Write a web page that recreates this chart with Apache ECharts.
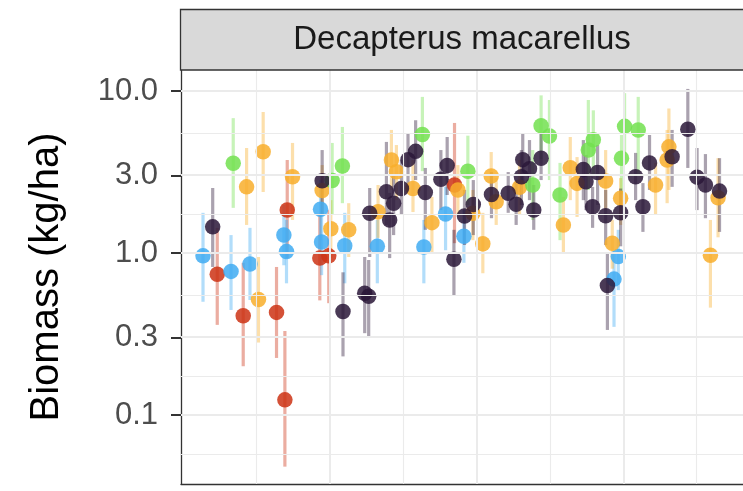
<!DOCTYPE html>
<html><head><meta charset="utf-8">
<script src="https://cdn.jsdelivr.net/npm/echarts@6/dist/echarts.min.js"></script>
<style>html,body{margin:0;padding:0;background:#fff}#c{width:743px;height:491px}</style>
</head><body><div id="c"></div>
<script>
const stripLabel = 'Decapterus macarellus';
const yTitle = 'Biomass (kg/ha)';
const yTickLabels = [0.1, 0.3, 1, 3, 10];
const yMinorBreaks = [0.058, 0.173, 0.548, 1.73, 5.48];
const xMajorBreaks = [1990, 2000, 2010];
const xMinorBreaks = [1985, 1995, 2005, 2015];
const xRange = [1979.86, 2018.16];
const yRange = [0.0375, 13.48];

// rows: [year, estimate, lower, upper]
const redPts = [
  [1982.33, 0.74, 0.36, 1.43], [1984.10, 0.41, 0.20, 0.87], [1986.37, 0.43, 0.225, 0.82],
  [1986.94, 0.124, 0.048, 0.33], [1987.10, 1.84, 0.93, 3.75], [1989.32, 0.93, 0.51, 1.72],
  [1989.93, 0.96, 0.49, 1.84], [1998.50, 2.63, 1.15, 6.35]
];
const bluePts = [
  [1981.36, 0.96, 0.50, 1.77], [1983.27, 0.77, 0.445, 1.29], [1984.56, 0.855, 0.513, 1.43],
  [1986.87, 1.29, 0.84, 1.98], [1987.05, 1.02, 0.65, 1.60], [1989.37, 1.86, 1.20, 2.82],
  [1989.44, 1.17, 0.73, 1.72], [1991.02, 1.11, 0.65, 1.77], [1993.24, 1.10, 0.65, 1.60],
  [1996.41, 1.09, 0.65, 1.60], [1997.89, 1.74, 1.04, 2.56], [1999.14, 1.27, 0.87, 1.84],
  [2009.37, 0.69, 0.35, 1.0], [2009.66, 0.95, 0.59, 1.39]
];
const orangePts = [
  [1984.33, 2.56, 1.49, 4.45], [1985.46, 4.22, 2.38, 7.42], [1985.14, 0.516, 0.28, 0.945],
  [1987.46, 2.96, 1.60, 4.78], [1989.48, 2.43, 1.72, 3.49], [1990.07, 1.41, 0.93, 2.12],
  [1991.29, 1.39, 0.945, 2.03], [1993.29, 1.80, 1.24, 2.63], [1994.20, 3.75, 2.45, 5.75],
  [1994.54, 3.17, 2.12, 4.64], [1995.67, 2.50, 1.79, 3.75], [1996.96, 1.54, 1.0, 2.22],
  [1998.73, 2.45, 1.72, 3.49], [1999.75, 1.76, 1.2, 2.45], [2000.43, 1.14, 0.75, 1.77],
  [2001.00, 2.99, 2.12, 4.2], [2001.34, 2.07, 1.49, 2.9], [2002.93, 2.55, 1.72, 3.75],
  [2005.92, 1.49, 1.0, 2.22], [2006.39, 3.36, 2.12, 5.2], [2006.85, 2.69, 1.67, 3.91],
  [2008.80, 2.78, 1.84, 4.32], [2009.25, 1.15, 0.8, 1.6], [2009.82, 2.18, 1.49, 2.9],
  [2012.20, 2.63, 1.72, 3.6], [2012.99, 3.75, 2.03, 5.75], [2013.11, 4.52, 2.45, 7.8],
  [2016.46, 2.19, 1.25, 3.85], [2015.94, 0.97, 0.46, 1.6]
];
const greenPts = [
  [1983.42, 3.58, 1.90, 6.8], [1990.16, 2.80, 1.72, 4.78], [1990.86, 3.44, 2.03, 6.0],
  [1996.31, 5.39, 3.2, 9.2], [1999.41, 3.2, 1.98, 5.3], [2003.83, 2.63, 1.6, 4.32],
  [2004.40, 6.1, 3.8, 9.4], [2004.97, 5.27, 2.82, 8.8], [2005.69, 2.28, 1.2, 3.6],
  [2007.62, 4.32, 2.45, 8.8], [2007.96, 5.0, 3.0, 7.6], [2009.88, 3.84, 2.3, 5.35],
  [2010.09, 6.05, 3.75, 9.7], [2011.02, 5.75, 3.03, 9.2]
];
const purplePts = [
  [1982.02, 1.45, 0.82, 2.52], [1989.48, 2.79, 1.72, 4.32], [1990.90, 0.435, 0.23, 0.76],
  [1992.38, 0.565, 0.32, 0.945], [1992.65, 0.54, 0.30, 0.905], [1992.72, 1.76, 0.945, 2.52],
  [1993.86, 2.39, 1.49, 4.85], [1994.08, 1.60, 0.93, 2.35], [1994.35, 2.03, 1.29, 3.03],
  [1994.88, 2.50, 1.72, 3.75], [1995.33, 3.77, 2.45, 5.5], [1995.85, 4.24, 2.82, 6.6],
  [1996.51, 2.36, 1.39, 3.35], [1997.57, 2.85, 1.84, 4.32], [1998.00, 3.47, 2.28, 5.2],
  [1998.46, 0.915, 0.55, 1.39], [1999.18, 1.69, 1.12, 2.45], [1999.78, 1.99, 1.29, 2.82],
  [2001.02, 2.30, 1.64, 3.16], [2002.16, 2.34, 1.77, 3.16], [2002.70, 2.00, 1.49, 2.74],
  [2003.15, 3.77, 2.63, 5.5], [2003.06, 2.96, 1.98, 4.32], [2003.61, 3.31, 2.12, 4.98],
  [2003.90, 1.84, 1.39, 2.63], [2004.40, 3.84, 2.82, 5.5], [2007.28, 3.28, 2.12, 4.98],
  [2007.46, 2.75, 1.84, 4.03], [2008.25, 3.14, 1.98, 4.64], [2007.91, 1.93, 1.43, 2.56],
  [2008.80, 1.70, 1.12, 2.45], [2008.92, 0.63, 0.335, 1.0], [2009.82, 1.77, 1.1, 2.5],
  [2010.84, 2.96, 2.12, 4.15], [2011.34, 1.93, 1.35, 2.7], [2011.79, 3.60, 2.45, 5.35],
  [2013.33, 3.93, 2.56, 5.75], [2014.40, 5.80, 3.35, 10.3], [2015.03, 2.94, 1.84, 4.45],
  [2015.60, 2.63, 1.64, 4.08], [2016.56, 2.41, 1.35, 3.85]
];

const groups = [
  { name: 'red', color: '#cc3314', pts: redPts },
  { name: 'blue', color: '#3fabf2', pts: bluePts },
  { name: 'orange', color: '#f8ae2c', pts: orangePts },
  { name: 'green', color: '#72e04f', pts: greenPts },
  { name: 'purple', color: '#2a1738', pts: purplePts }
];

const L = Math.log10;
const FONT = '"Liberation Sans", Arial, Helvetica, sans-serif';

const gridLines = [];
yTickLabels.forEach(v => gridLines.push({ yAxis: L(v), lineStyle: { color: '#ebebeb', width: 2, type: 'solid' } }));
yMinorBreaks.forEach(v => gridLines.push({ yAxis: L(v), lineStyle: { color: '#ebebeb', width: 1.1, type: 'solid' } }));
xMajorBreaks.forEach(v => gridLines.push({ xAxis: v, lineStyle: { color: '#ebebeb', width: 2, type: 'solid' } }));
xMinorBreaks.forEach(v => gridLines.push({ xAxis: v, lineStyle: { color: '#ebebeb', width: 1.1, type: 'solid' } }));

const series = [{
  type: 'scatter', data: [[xRange[0], L(yRange[0])]], symbolSize: 0, silent: true, z: 1,
  markLine: { silent: true, symbol: 'none', label: { show: false }, animation: false, data: gridLines }
}];

groups.forEach(g => {
  series.push({
    type: 'custom', name: g.name + '-bar', z: 2,
    data: g.pts.map(p => [p[0], L(p[2]), L(p[3])]),
    encode: { x: 0, y: [1, 2] },
    renderItem: (params, api) => {
      const x = api.value(0);
      const a = api.coord([x, api.value(1)]);
      const b = api.coord([x, api.value(2)]);
      return { type: 'line', shape: { x1: a[0], y1: a[1], x2: b[0], y2: b[1] },
               style: { stroke: g.color, lineWidth: 3.2, opacity: 0.4 } };
    }
  });
});
groups.forEach(g => {
  series.push({
    type: 'scatter', name: g.name, z: 3,
    data: g.pts.map(p => [p[0], L(p[1])]),
    symbol: 'circle', symbolSize: 15.5,
    itemStyle: { color: g.color, opacity: 0.85 }
  });
});

const chart = echarts.init(document.getElementById('c'), null, { renderer: 'canvas' });
chart.setOption({
  animation: false,
  backgroundColor: '#ffffff',
  grid: { left: 181, right: -1, top: 70, bottom: 7, containLabel: false },
  xAxis: {
    type: 'value', min: xRange[0], max: xRange[1],
    axisLine: { show: true, onZero: false, lineStyle: { color: '#333333', width: 1.3 } },
    axisTick: { show: false }, axisLabel: { show: false }, splitLine: { show: false }
  },
  yAxis: {
    type: 'value', min: L(yRange[0]), max: L(yRange[1]),
    name: yTitle, nameLocation: 'middle', nameGap: 114,
    nameTextStyle: { fontSize: 40, color: '#000000', fontFamily: FONT },
    axisLine: { show: true, onZero: false, lineStyle: { color: '#333333', width: 1.3 } },
    axisTick: { show: true, length: 10, customValues: yTickLabels.map(L), lineStyle: { color: '#333333', width: 2 } },
    axisLabel: {
      show: true, margin: 23, customValues: yTickLabels.map(L),
      formatter: v => Math.pow(10, v).toFixed(1),
      fontSize: 31, color: '#4d4d4d', fontFamily: FONT
    },
    splitLine: { show: false }
  },
  graphic: [
    { type: 'rect', z: 10, shape: { x: 180.5, y: 9.5, width: 580, height: 60.5 },
      style: { fill: '#d9d9d9', stroke: '#333333', lineWidth: 1.3 } },
    { type: 'text', z: 11, x: 462, y: 40,
      style: { text: stripLabel, fontSize: 33, fontFamily: FONT, fill: '#1a1a1a', align: 'center', verticalAlign: 'middle' } }
  ],
  series: series
});
</script>
</body></html>
